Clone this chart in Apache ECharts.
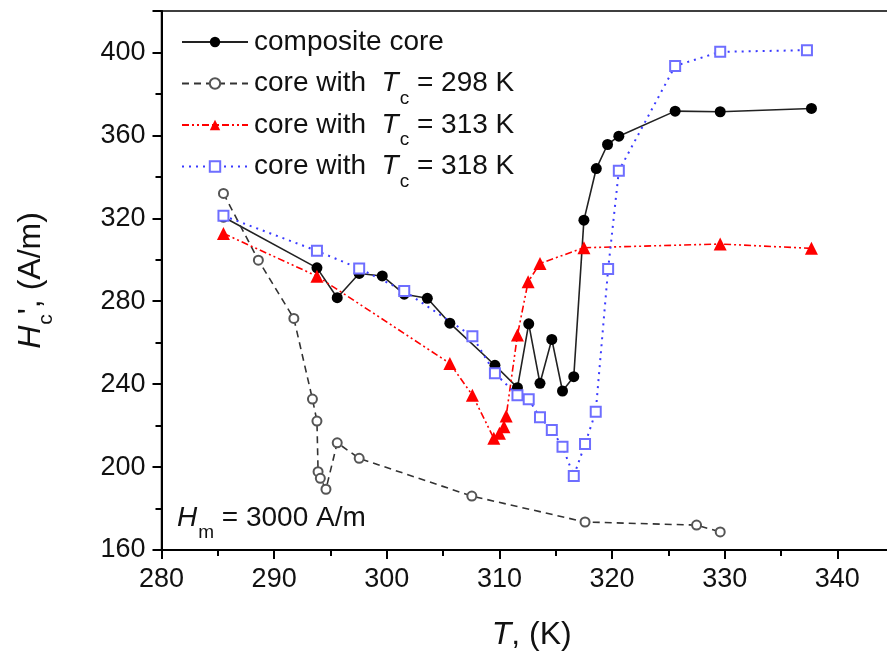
<!DOCTYPE html>
<html>
<head>
<meta charset="utf-8">
<script src="https://cdn.jsdelivr.net/npm/echarts@6/dist/echarts.min.js"></script>
<style>
    html, body { margin: 0; padding: 0; background: #fff; }
    #main { width: 887px; height: 653px; }
</style>
</head>
<body>
<div id="main"></div>
<script>
// 温度 T (K) 与矫顽力 Hc (A/m)
var compT = [285.5, 293.8, 295.6, 297.55, 299.6, 301.55, 303.6, 305.6, 309.6, 311.6, 312.6, 313.6, 314.65, 315.6, 316.6, 317.5, 318.6, 319.6, 320.6, 325.6, 329.6, 337.7];
var compH = [320.6, 296.1, 281.7, 293.4, 292.2, 283.4, 281.4, 269.4, 249.1, 238.3, 269.1, 240.4, 261.6, 236.7, 243.6, 319.1, 344.0, 355.6, 359.6, 371.7, 371.4, 373.0];

var t298T = [285.5, 288.6, 291.75, 293.4, 293.8, 293.9, 294.1, 294.6, 295.6, 297.55, 307.55, 317.6, 327.5, 329.6];
var t298H = [332.0, 299.8, 271.7, 232.8, 222.2, 197.8, 194.6, 189.3, 211.7, 204.2, 186.0, 173.5, 172.0, 168.7];

var t313T = [285.5, 293.8, 305.6, 307.6, 309.5, 310.0, 310.4, 310.6, 311.6, 312.55, 313.6, 317.5, 329.6, 337.7];
var t313H = [312.7, 292.1, 250.0, 234.7, 213.9, 216.3, 219.5, 224.6, 263.7, 289.4, 298.2, 305.8, 307.6, 305.5];

var t318T = [285.5, 293.8, 297.55, 301.55, 307.6, 309.6, 311.6, 312.6, 313.6, 314.65, 315.6, 316.6, 317.6, 318.55, 319.65, 320.6, 325.6, 329.6, 337.3];
var t318H = [321.2, 304.3, 295.8, 284.9, 263.1, 245.2, 234.7, 232.7, 224.0, 217.9, 209.8, 195.7, 211.1, 226.7, 295.5, 342.9, 393.5, 400.3, 401.1];

var names = ['composite core', 'core with Tc = 298 K', 'core with Tc = 313 K', 'core with Tc = 318 K'];

var font = 'Liberation Sans, Arial, sans-serif';

// 把两个数组拼成 [x, y]
function pairs(xs, ys) {
    var out = [];
    for (var i = 0; i < xs.length; i++) {
        out.push([xs[i], ys[i]]);
    }
    return out;
}

// 斜体字母 + 下标
var rich = {
    i: { fontStyle: 'italic', fontSize: 28, lineHeight: 38, fontFamily: font, color: '#111' },
    s: { fontSize: 19, fontFamily: font, color: '#111', padding: [0, 0, -30, 1] }
};

var myChart = echarts.init(document.getElementById('main'));

var option = {
    backgroundColor: '#fff',
    animation: false,
    grid: {
        left: 161.5,
        top: 11,
        right: -63,
        bottom: 103,
        outerBoundsMode: 'none',
        show: true,
        borderColor: '#000',
        borderWidth: 1.5
    },
    title: {
        text: '{i|H}{s|m} = 3000 A/m',
        left: 172,
        top: 494,
        textStyle: { fontSize: 28, fontWeight: 'normal', fontFamily: font, color: '#111', rich: rich }
    },
    legend: {
        orient: 'vertical',
        left: 176,
        top: 18,
        itemWidth: 66,
        itemHeight: 13,
        itemGap: -2,
        data: names,
        formatter: function (name) {
            // 每一项都带一个下标片段，保证行高一致
            if (name.indexOf('Tc') < 0) {
                return name + '{s| }';
            }
            return name.replace('with Tc', 'with {i| T}{s|c}');
        },
        textStyle: { fontSize: 28, lineHeight: 38, fontFamily: font, color: '#111', padding: [0, 0, 0, 1], rich: rich }
    },
    xAxis: {
        type: 'value',
        min: 280,
        max: 350,
        interval: 10,
        name: '{i|T}, (K)',
        nameLocation: 'middle',
        nameGap: 69,
        nameTextStyle: {
            fontSize: 32, fontFamily: font, color: '#111', padding: [0, 48, 0, 0],
            rich: { i: { fontStyle: 'italic', fontSize: 32, fontFamily: font } }
        },
        axisLine: { lineStyle: { color: '#000', width: 2 } },
        axisTick: { length: 9, lineStyle: { color: '#000', width: 2 } },
        minorTick: { show: true, splitNumber: 2, length: 6, lineStyle: { color: '#000', width: 2 } },
        splitLine: { show: false },
        axisLabel: { fontSize: 27, fontFamily: font, color: '#111', margin: 16 }
    },
    yAxis: {
        type: 'value',
        min: 160,
        max: 420,
        interval: 40,
        name: "{i|H}{s|c}', (A/m)",
        nameLocation: 'middle',
        nameRotate: 90,
        nameGap: 114,
        nameTextStyle: {
            fontSize: 32, fontFamily: font, color: '#111',
            rich: {
                i: { fontStyle: 'italic', fontSize: 32, fontFamily: font, color: '#111' },
                s: { fontSize: 21, fontFamily: font, color: '#111', padding: [0, 0, -30, 1] }
            }
        },
        axisLine: { lineStyle: { color: '#000', width: 2 } },
        axisTick: { length: 9, lineStyle: { color: '#000', width: 2 } },
        minorTick: { show: true, splitNumber: 2, length: 6, lineStyle: { color: '#000', width: 2 } },
        splitLine: { show: false },
        axisLabel: {
            fontSize: 27, fontFamily: font, color: '#111', margin: 16,
            formatter: function (v) { return v % 40 === 0 ? v : ''; }
        }
    },
    series: [
        {
            name: names[0],
            type: 'line',
            data: pairs(compT, compH),
            symbol: 'circle',
            symbolSize: 11,
            itemStyle: { color: '#000' },
            lineStyle: { color: '#222', width: 1.6, type: 'solid' }
        },
        {
            name: names[1],
            type: 'line',
            data: pairs(t298T, t298H),
            symbol: 'emptyCircle',
            symbolSize: 9,
            itemStyle: { color: '#555', borderWidth: 1.2 },
            lineStyle: { color: '#333', width: 1.6, type: [7, 5] }
        },
        {
            name: names[2],
            type: 'line',
            data: pairs(t313T, t313H),
            symbol: 'triangle',
            symbolSize: 13,
            itemStyle: { color: '#ff0000' },
            lineStyle: { color: '#ff0000', width: 1.6, type: [7, 3, 2, 3, 2, 3] }
        },
        {
            name: names[3],
            type: 'line',
            data: pairs(t318T, t318H),
            symbol: 'emptyRect',
            symbolSize: 10,
            itemStyle: { color: '#6e6eff', borderWidth: 1.2 },
            lineStyle: { color: '#3a3aff', width: 2, type: [2, 5] }
        }
    ]
};

//使用刚指定过的配置项和数据填充图表
myChart.setOption(option, true);
</script>
</body>
</html>
